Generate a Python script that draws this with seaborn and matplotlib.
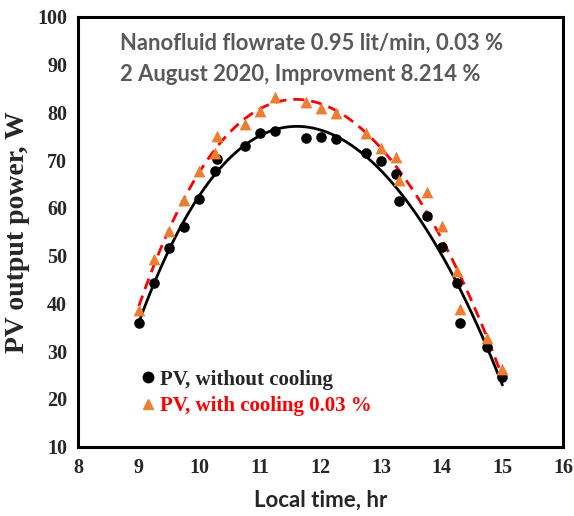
import numpy as np
import pandas as pd
import matplotlib
matplotlib.use("Agg")
import matplotlib.pyplot as plt
import seaborn as sns
from matplotlib.lines import Line2D

# ---- data ----
time_hr = [9.0, 9.25, 9.5, 9.75, 10.0, 10.25, 10.29, 10.75, 11.0, 11.25, 11.75, 12.0,
           12.25, 12.75, 13.0, 13.25, 13.29, 13.75, 14.0, 14.25, 14.3, 14.75, 15.0]
pv_without = [35.9, 44.3, 51.5, 56.0, 61.9, 67.7, 70.2, 73.0, 75.7, 76.1, 74.7, 74.8,
              74.4, 71.4, 69.8, 67.1, 61.4, 58.3, 51.8, 44.3, 35.9, 30.9, 24.6]
pv_with = [38.7, 49.2, 55.1, 61.6, 67.7, 71.4, 75.1, 77.5, 80.3, 83.3, 82.1, 81.0,
           79.8, 75.6, 72.5, 70.7, 65.8, 63.4, 56.3, 46.8, 38.8, 32.7, 26.2]
label_without = "PV, without cooling"
label_with = "PV, with cooling 0.03 %"
note_lines = ["Nanofluid flowrate 0.95 lit/min, 0.03 %", "2 August 2020, Improvment 8.214 %"]
x_ticks = [8, 9, 10, 11, 12, 13, 14, 15, 16]
y_ticks = [10, 20, 30, 40, 50, 60, 70, 80, 90, 100]

df = pd.DataFrame({"t": time_hr, "without": pv_without, "with": pv_with})

# polynomial trendlines fitted to the data
tt = np.linspace(min(time_hr), max(time_hr), 200)
fit_wo = np.polyval(np.polyfit(df["t"], df["without"], 4), tt)
fit_w = np.polyval(np.polyfit(df["t"], df["with"], 4), tt)
fit_df = pd.DataFrame({"t": tt, "wo": fit_wo, "w": fit_w})

sns.set_theme(style="white")
plt.rcParams["font.family"] = ["Liberation Serif", "DejaVu Serif"]

fig = plt.figure(figsize=(5.74, 5.16), dpi=100)
ax = fig.add_axes([78.3 / 574, 1 - 446.5 / 516, (563 - 78.3) / 574, (446.5 - 17) / 516])

orange = "#ED7D31"
sns.lineplot(data=fit_df, x="t", y="wo", ax=ax, color="black", lw=2.0)
sns.lineplot(data=fit_df, x="t", y="w", ax=ax, color="#FF0000", lw=2.0, linestyle=(0, (4, 2.5)))
sns.scatterplot(data=df, x="t", y="without", ax=ax, color="black", marker="o", s=58,
                edgecolor="black", linewidth=0, zorder=3)
sns.scatterplot(data=df, x="t", y="with", ax=ax, color=orange, marker="^", s=72,
                edgecolor=orange, linewidth=0, zorder=3)

ax.set_xlim(8, 16)
ax.set_ylim(10, 100)
ax.set_xticks(x_ticks)
ax.set_yticks(y_ticks)
ax.tick_params(direction="in", length=4, width=1.5, labelsize=14.5, pad=8, color="black")
for lab in ax.get_xticklabels() + ax.get_yticklabels():
    lab.set_fontweight("bold")
    lab.set_family(["Liberation Serif"])
for sp in ax.spines.values():
    sp.set_color("black")
    sp.set_linewidth(2.2)

ax.set_xlabel("Local time, hr", fontsize=16, fontweight="bold", family=["Lato", "DejaVu Sans"],
              labelpad=9)
ax.set_ylabel("PV output power, W", fontsize=20, fontweight="bold", family=["Liberation Serif"],
              labelpad=5)

ax.text(0.087, 0.938, note_lines[0], transform=ax.transAxes, fontsize=15.8, fontweight="bold",
        color="#595959", family=["Lato", "DejaVu Sans"], va="center", ha="left")
ax.text(0.087, 0.866, note_lines[1], transform=ax.transAxes, fontsize=15.8, fontweight="bold",
        color="#595959", family=["Lato", "DejaVu Sans"], va="center", ha="left")

handles = [Line2D([], [], marker="o", color="black", ls="none", markersize=7.5),
           Line2D([], [], marker="^", color=orange, ls="none", markersize=7.5)]
leg = ax.legend(handles, [label_without, label_with], loc="center left",
                bbox_to_anchor=(0.11, 0.125), frameon=False, handletextpad=0.15,
                handlelength=0.8, labelspacing=0.3, borderaxespad=0,
                prop={"family": "Liberation Serif", "weight": "bold", "size": 15})
leg.get_texts()[1].set_color("#FF0000")

fig.savefig("out.png", dpi=100)
